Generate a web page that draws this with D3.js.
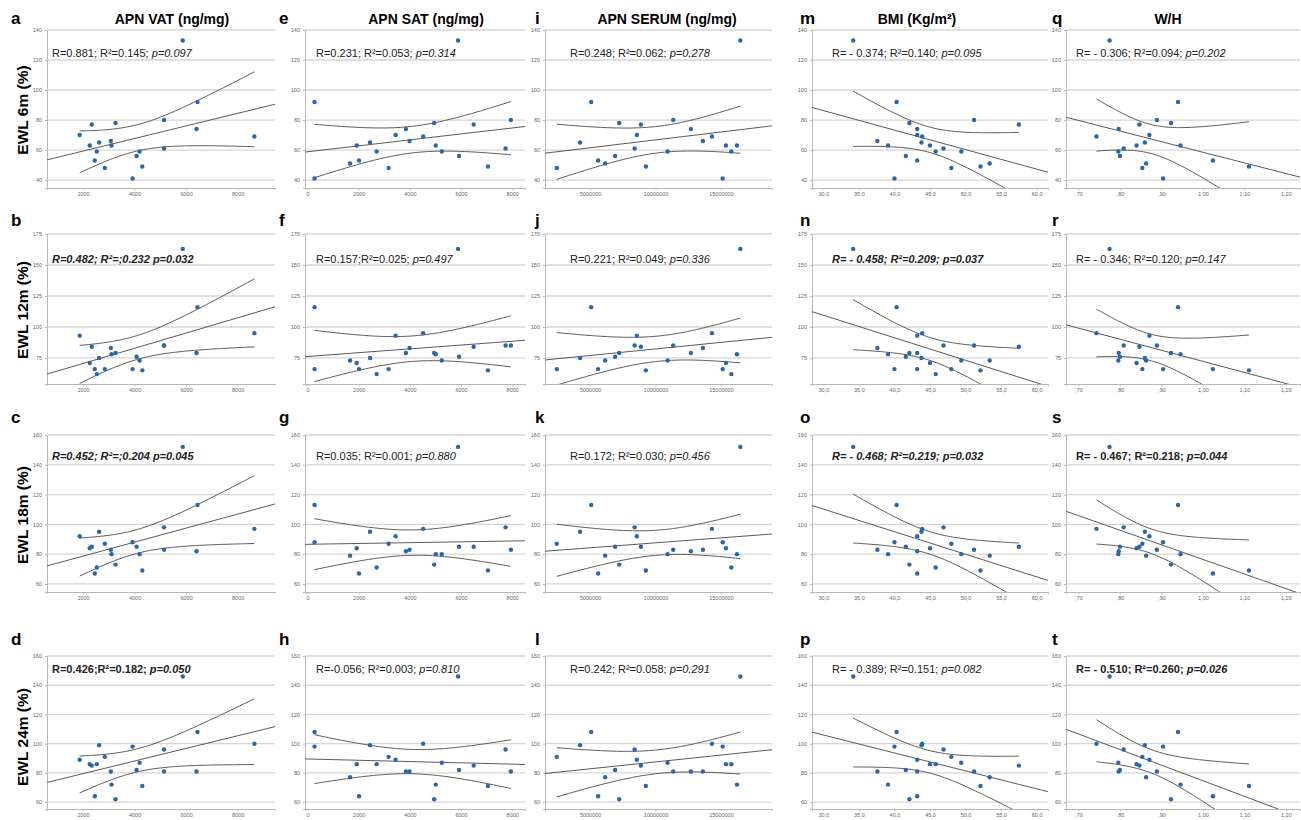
<!DOCTYPE html>
<html>
<head>
<meta charset="utf-8">
<script src="https://cdn.jsdelivr.net/npm/d3@7"></script>
<style>
  body { margin: 0; background: #fff; }
  svg { display: block; font-family: "Liberation Sans", Arial, sans-serif; }
</style>
</head>
<body>
<div id="chart"></div>
<script>
// patients ordered by EWL at 6 months (same patients in every panel)
const apnVat   = [3922, 2844, 4299, null, 2455, 4078, 2532, 4195, 5143, 2260, 3104, 2623, 3078, 8649, 1870, 6403, 2338, 3260, 5143, 6442, 5870];
const apnSat   = [273, 3169, 7052, 1662, 2013, 5922, 2701, 5247, 7740, 1922, 5013, 2442, 3987, 4519, 3442, 3844, 6494, 4948, 7948, 273, 5883];
const apnSerum = [15.13e6, 2.45e6, 9.26e6, 6.15e6, 5.61e6, 6.91e6, 15.79e6, 10.92e6, 8.40e6, 15.38e6, 16.22e6, 4.23e6, 13.62e6, 14.31e6, 8.57e6, 12.70e6, 8.88e6, 7.22e6, 11.35e6, 5.08e6, 16.48e6];
const bmi      = [40.0, 48.0, 52.1, 53.4, 43.2, 41.6, 45.8, 49.4, 46.9, 45.0, 39.1, 43.8, 37.6, 43.9, 43.2, 43.2, 57.5, 42.1, 51.2, 40.3, 34.2];
const waistHip = [0.904, 0.854, 1.111, 0.863, 1.024, 0.800, null, 0.796, 0.809, 0.840, 0.946, 0.860, null, 0.7435, 0.871, 0.797, 0.847, 0.923, 0.889, 0.940, 0.775];

const ewl6  = [41, 48, 49, 51, 53, 56, 59, 59, 61, 63, 63, 65, 66, 69, 70, 74, 77, 78, 80, 92, 133];
const ewl12 = [66, 66, 65, 73, 66, 76, 62, 73, 85, 71, 78, 75, 83, 95, 93, 79, 84, 79, 85, 116, 163];
const ewl18 = [88, 87, 69, 79, 67, 85, 71, 80, 98, 84, 80, 95, 83, 97, 92, 82, 85, 73, 83, 113, 152];
const ewl24 = [98, 91, 71, 77, 64, 82, 86, 87, 96, 86, 72, 99, 81, 100, 89, 81, 85, 62, 81, 108, 146];

const colTitles = ['APN VAT (ng/mg)', 'APN SAT (ng/mg)', 'APN SERUM (ng/mg)', 'BMI (Kg/m²)', 'W/H'];
const rowTitles = ['EWL 6m (%)', 'EWL 12m (%)', 'EWL 18m (%)', 'EWL 24m (%)'];
const panelLetters = ['abcd', 'efgh', 'ijkl', 'mnop', 'qrst'];

const vatTicks = [2000, 4000, 6000, 8000];
const satTicks = [0, 2000, 4000, 6000, 8000];
const serumTicks = [5000000, 10000000, 15000000];
const bmiTicks = [30, 35, 40, 45, 50, 55, 60];
const bmiTickLabels = ['30,0', '35,0', '40,0', '45,0', '50,0', '55,0', '60,0'];
const whTicks = [0.7, 0.8, 0.9, 1.0, 1.1, 1.2];
const whTickLabels = [',70', ',80', ',90', '1,00', '1,10', '1,20'];

const ewl6Ticks = [40, 60, 80, 100, 120, 140];
const ewl12Ticks = [75, 100, 125, 150, 175];
const ewl18Ticks = [60, 80, 100, 120, 140, 160];
const ewl24Ticks = [60, 80, 100, 120, 140, 160];

// stats text per panel, column by column: [text, style]
const statsText = [
  [[['R=0.881; R²=0.145; ', 'n'], ['p=0.097', 'i']],
   [['R=0.482; R²=;0.232 p=0.032', 'bi']],
   [['R=0.452; R²=;0.204 p=0.045', 'bi']],
   [['R=0.426;R²=0.182; ', 'b'], ['p=0.050', 'bi']]],
  [[['R=0.231; R²=0.053; ', 'n'], ['p=0.314', 'i']],
   [['R=0.157;R²=0.025; ', 'n'], ['p=0.497', 'i']],
   [['R=0.035; R²=0.001; ', 'n'], ['p=0.880', 'i']],
   [['R=-0.056; R²=0.003; ', 'n'], ['p=0.810', 'i']]],
  [[['R=0.248; R²=0.062; ', 'n'], ['p=0.278', 'i']],
   [['R=0.221; R²=0.049; ', 'n'], ['p=0.336', 'i']],
   [['R=0.172; R²=0.030; ', 'n'], ['p=0.456', 'i']],
   [['R=0.242; R²=0.058; ', 'n'], ['p=0.291', 'i']]],
  [[['R= - 0.374; R²=0.140; ', 'n'], ['p=0.095', 'i']],
   [['R= - 0.458; R²=0.209; p=0.037', 'bi']],
   [['R= - 0.468; R²=0.219; p=0.032', 'bi']],
   [['R= - 0.389; R²=0.151; ', 'n'], ['p=0.082', 'i']]],
  [[['R= - 0.306; R²=0.094; ', 'n'], ['p=0.202', 'i']],
   [['R= - 0.346; R²=0.120; ', 'n'], ['p=0.147', 'i']],
   [['R= - 0.467; R²=0.218; ', 'b'], ['p=0.044', 'bi']],
   [['R= - 0.510; R²=0.260; ', 'b'], ['p=0.026', 'bi']]]
];

// two-sided 95% t values by degrees of freedom
const tCrit = {16: 2.120, 17: 2.110, 18: 2.101, 19: 2.093};

const width = 1301, height = 820;

const cols = [
  {x: apnVat,   left: 47,   right: 275,  dom: [600, 9450],         ticks: vatTicks,   labels: null,          title: 172,  letter: 11,   stat: 5},
  {x: apnSat,   left: 305,  right: 525,  dom: [-100, 8500],        ticks: satTicks,   labels: null,          title: 426,  letter: 279,  stat: 11},
  {x: apnSerum, left: 545,  right: 772,  dom: [1550000, 18900000], ticks: serumTicks, labels: null,          title: 667,  letter: 535,  stat: 25},
  {x: bmi,      left: 812,  right: 1048, dom: [28.4, 61.6],        ticks: bmiTicks,   labels: bmiTickLabels, title: 917,  letter: 800,  stat: 20},
  {x: waistHip, left: 1066, right: 1300, dom: [0.67, 1.234],       ticks: whTicks,    labels: whTickLabels,  title: 1168, letter: 1052, stat: 10}
];

const rows = [
  {y: ewl6,  top: 30,  bottom: 188, dom: [34.7, 140], ticks: ewl6Ticks,  letterY: 24,  statY: 57,  labelY: 110},
  {y: ewl12, top: 234, bottom: 384, dom: [54, 175],   ticks: ewl12Ticks, letterY: 226, statY: 263, labelY: 310},
  {y: ewl18, top: 435, bottom: 592, dom: [54.6, 160], ticks: ewl18Ticks, letterY: 423, statY: 460, labelY: 515},
  {y: ewl24, top: 656, bottom: 809, dom: [55.3, 160], ticks: ewl24Ticks, letterY: 645, statY: 673, labelY: 737}
];

const svg = d3.select('#chart').append('svg')
  .attr('width', width)
  .attr('height', height);

// column titles
svg.selectAll('.col-title').data(cols)
  .enter().append('text')
    .attr('x', c => c.title)
    .attr('y', 24)
    .attr('text-anchor', 'middle')
    .attr('font-size', 14)
    .attr('font-weight', 'bold')
    .text((c, i) => colTitles[i]);

// row labels
svg.selectAll('.row-title').data(rows)
  .enter().append('text')
    .attr('transform', r => `translate(28,${r.labelY}) rotate(-90)`)
    .attr('text-anchor', 'middle')
    .attr('font-size', 15.5)
    .attr('font-weight', 'bold')
    .text((r, i) => rowTitles[i]);

let fitLine = pts => {
  let n = pts.length;
  let mx = d3.mean(pts, p => p[0]);
  let my = d3.mean(pts, p => p[1]);
  let sxx = d3.sum(pts, p => (p[0] - mx) ** 2);
  let sxy = d3.sum(pts, p => (p[0] - mx) * (p[1] - my));
  let b = sxy / sxx;
  let a = my - b * mx;
  let sse = d3.sum(pts, p => (p[1] - a - b * p[0]) ** 2);
  let s = Math.sqrt(sse / (n - 2));
  let t = tCrit[n - 2] || 2.1;
  let half = x => t * s * Math.sqrt(1 / n + (x - mx) ** 2 / sxx);
  return {a, b, half};
};

let styleAxis = ax => {
  ax.select('.domain').attr('stroke', '#b8b8b8');
  ax.selectAll('.tick line').attr('stroke', '#b8b8b8');
  ax.selectAll('text')
    .attr('font-size', 5.5)
    .attr('fill', '#666')
    .attr('font-family', 'Liberation Sans, Arial, sans-serif');
};

cols.forEach((col, ci) => {
  rows.forEach((row, ri) => {
    let pts = col.x.map((xv, i) => [xv, row.y[i]]).filter(p => p[0] != null && p[1] != null);

    let sx = d3.scaleLinear().domain(col.dom).range([col.left, col.right]);
    let sy = d3.scaleLinear().domain(row.dom).range([row.bottom, row.top]);

    let g = svg.append('g');
    let clipId = `clip-${ci}-${ri}`;
    g.append('clipPath').attr('id', clipId)
      .append('rect')
        .attr('x', col.left)
        .attr('y', row.top - 3)
        .attr('width', col.right - col.left)
        .attr('height', row.bottom - row.top + 3);

    // grid lines
    g.selectAll('.grid').data(row.ticks)
      .enter().append('line')
        .attr('x1', col.left)
        .attr('x2', col.right)
        .attr('y1', d => sy(d))
        .attr('y2', d => sy(d))
        .attr('stroke', '#d6d6d6')
        .attr('stroke-width', 1.3);

    // axes
    g.append('g')
      .attr('transform', `translate(${col.left},0)`)
      .call(d3.axisLeft(sy).tickValues(row.ticks).tickSize(2).tickPadding(3))
      .call(styleAxis);

    g.append('g')
      .attr('transform', `translate(0,${row.bottom})`)
      .call(d3.axisBottom(sx).tickValues(col.ticks).tickSize(2).tickPadding(2)
        .tickFormat((d, i) => col.labels ? col.labels[i] : String(d)))
      .call(styleAxis);

    // regression line with 95% confidence band of the mean
    let f = fitLine(pts);
    let [xmin, xmax] = d3.extent(pts, p => p[0]);
    let xs = d3.range(0, 81).map(k => xmin + (xmax - xmin) * k / 80);
    let line = d3.line().x(d => sx(d[0])).y(d => sy(d[1]));
    let plot = g.append('g').attr('clip-path', `url(#${clipId})`);

    plot.append('path')
      .datum(col.dom.map(x => [x, f.a + f.b * x]))
      .attr('d', line)
      .attr('fill', 'none')
      .attr('stroke', '#5a5a5a')
      .attr('stroke-width', 1);

    [-1, 1].forEach(sign => {
      plot.append('path')
        .datum(xs.map(x => [x, f.a + f.b * x + sign * f.half(x)]))
        .attr('d', line)
        .attr('fill', 'none')
        .attr('stroke', '#5a5a5a')
        .attr('stroke-width', 1);
    });

    plot.selectAll('circle').data(pts)
      .enter().append('circle')
        .attr('cx', d => sx(d[0]))
        .attr('cy', d => sy(d[1]))
        .attr('r', 2.2)
        .attr('fill', '#2868a8');

    // panel letter
    svg.append('text')
      .attr('x', col.letter)
      .attr('y', row.letterY)
      .attr('font-size', 17)
      .attr('font-weight', 'bold')
      .text(panelLetters[ci][ri]);

    // statistics
    let st = svg.append('text')
      .attr('x', col.left + col.stat)
      .attr('y', row.statY)
      .attr('font-size', 11)
      .attr('fill', '#222');
    statsText[ci][ri].forEach(([txt, style]) => {
      st.append('tspan')
        .attr('font-weight', style.includes('b') ? 'bold' : 'normal')
        .attr('font-style', style.includes('i') ? 'italic' : 'normal')
        .text(txt);
    });
  });
});
</script>
</body>
</html>
